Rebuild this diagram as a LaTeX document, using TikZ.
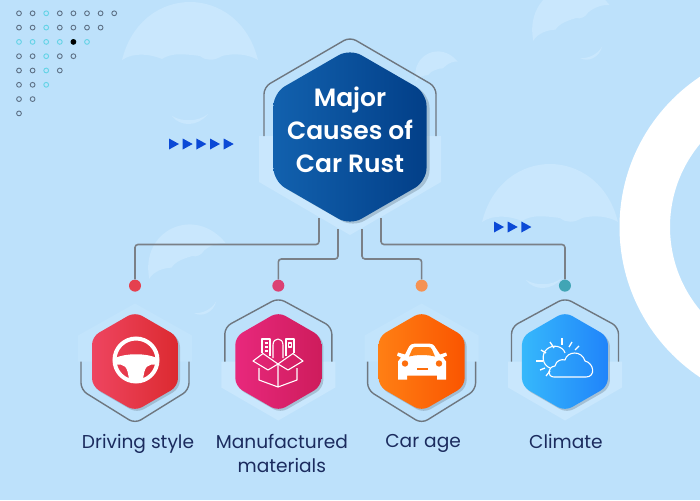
\documentclass[tikz,border=0pt]{standalone}
\usepackage{fontspec}
\setmainfont{Poppins}
\newfontfamily\headfont{Poppins SemiBold}
\usepackage{tikz}
\usetikzlibrary{positioning,shapes.geometric}
\definecolor{skyback}{HTML}{BDE1FB}
\definecolor{skypale}{HTML}{C9E7FD}
\definecolor{rimgray}{HTML}{6E7780}
\definecolor{linkgray}{HTML}{7A8087}
\definecolor{dotgray}{HTML}{5E7186}
\definecolor{dotcyan}{HTML}{63D3E6}
\definecolor{tipblue}{HTML}{0B49D6}
\definecolor{inkblue}{HTML}{1B2B5E}
\definecolor{HubL}{HTML}{1261AE}
\definecolor{HubR}{HTML}{023F88}
\definecolor{RedL}{HTML}{EE4560}
\definecolor{RedR}{HTML}{DC2A30}
\definecolor{PinkL}{HTML}{E8287C}
\definecolor{PinkR}{HTML}{CE1C5C}
\definecolor{OrangeL}{HTML}{FF7F14}
\definecolor{OrangeR}{HTML}{FA5500}
\definecolor{BlueL}{HTML}{36B8FB}
\definecolor{BlueR}{HTML}{2084FA}
\definecolor{JointRed}{HTML}{E5404F}
\definecolor{JointPink}{HTML}{DB4173}
\definecolor{JointOrange}{HTML}{F59253}
\definecolor{JointTeal}{HTML}{41A5B5}
\tikzset{
  hubhex/.style={regular polygon, regular polygon sides=6, shape border rotate=30, minimum size=176.7pt, inner sep=0pt, outer sep=0pt, rounded corners=13pt,
    preaction={fill=black!35!skyback, fill opacity=.45, transform canvas={xshift=3pt,yshift=-2pt}}},
  smallhex/.style={regular polygon, regular polygon sides=6, shape border rotate=30, minimum size=99.3pt, inner sep=0pt, outer sep=0pt, rounded corners=8pt,
    preaction={fill=black!35!skyback, fill opacity=.45, transform canvas={xshift=2pt,yshift=-2pt}}},
  rim/.style={draw=rimgray, line width=1.4pt, rounded corners=7pt},
  link/.style={draw=linkgray, line width=1.6pt, rounded corners=3pt},
  joint/.style={circle, minimum size=12pt, inner sep=0pt},
  caption/.style={text=inkblue, align=center, font=\fontsize{18.6}{23.5}\selectfont},
  gridring/.style={draw=dotgray, line width=.9pt, circle, minimum size=4.8pt, inner sep=0pt},
  tip/.style={fill=tipblue},
  iconfill/.style={fill=white},
  iconline/.style={draw=white, line width=1.1pt, line join=round},
  skycloud/.pic={
    \fill[skypale] (-68,-2) .. controls (-58,-42) and (-28,-60) .. (0,-60) .. controls (28,-60) and (58,-42) .. (68,-2)
      .. controls (58,-8) and (44,-9) .. (32,-6) .. controls (24,-1) and (16,-1) .. (10,-6) .. controls (-12,-9) and (-20,-8) .. (-28,-3)
      .. controls (-40,-8) and (-56,-10) .. (-68,-2) -- cycle;
  },
  skysmile/.pic={
    \fill[skypale] (-18,-2) .. controls (-8,4) and (8,4) .. (18,-4) .. controls (8,9) and (-10,9) .. (-18,-2) -- cycle;
  }
}
\newcommand{\lowerrim}[1]{\draw[rim] ([shift={(-54,0)}]#1) -- ++(0,28.5) -- ++(54,33.5) -- ++(54,-33.5) -- ++(0,-28.5);}
\newcommand{\upperrim}[1]{\draw[rim] ([shift={(-53.5,0)}]#1) -- ++(0,-34.5) -- ++(53.5,-29) -- ++(53.5,29) -- ++(0,34.5);}
\newcommand{\lowerpale}[1]{\fill[skypale] ([shift={(-57,0)}]#1) -- ++(0,26) -- ++(57,33) -- ++(57,-33) -- ++(0,-26) -- cycle;}
\newcommand{\upperpale}[1]{\fill[skypale!45!skyback] ([shift={(-57,0)}]#1) -- ++(0,-26) -- ++(57,-32) -- ++(57,32) -- ++(0,26) -- cycle;}

\begin{document}
\begin{tikzpicture}[x=1pt, y=-1pt, node distance=57.3pt]
  \useasboundingbox (0,0) rectangle (700,500);
  \fill[skyback] (0,0) rectangle (700,500);

  % backdrop
  \fill[white, even odd rule] (800,227) circle (180.5) (800,227) circle (130);
  \pic at (190,62) {skycloud};
  \pic at (550,224) {skycloud};
  \pic[scale=.62, rotate=25] at (572,24) {skycloud};
  \pic[scale=.34, rotate=25] at (437,72) {skycloud};
  \pic[scale=.62, rotate=25] at (188,262) {skycloud};
  \pic at (190,118) {skysmile};
  \pic at (544,282) {skysmile};
  \pic[scale=.7, rotate=25] at (592,54) {skysmile};
  \pic[scale=.7, rotate=25] at (206,309) {skysmile};

  % dot grid, one row shorter each time
  \foreach \row in {0,...,7}{
    \pgfmathtruncatemacro{\last}{7-\row}
    \foreach \col in {0,...,\last}{
      \pgfmathsetmacro{\gx}{19+13.6*\col}
      \pgfmathsetmacro{\gy}{13.3+14.3*\row}
      \ifnum\col=2
        \node[gridring, draw=dotcyan] (grid\row\col) at (\gx,\gy) {};
      \else\ifnum\row=2
        \node[gridring, draw=dotcyan] (grid\row\col) at (\gx,\gy) {};
      \else
        \node[gridring] (grid\row\col) at (\gx,\gy) {};
      \fi\fi
    }
  }
  \node[gridring, draw=black, fill=black] (gridmark) at (73.4,41.9) {};

  % small arrow tips
  \foreach \tx in {169,182.7,196.4,210,223.7}
    \fill[tip] (\tx,138.5) -- ++(10,5.5) -- ++(-10,5.5) -- cycle;
  \foreach \tx in {494,507.7,521.4}
    \fill[tip] (\tx,221.5) -- ++(10,5.5) -- ++(-10,5.5) -- cycle;

  \coordinate (hubc) at (350,137);
  \coordinate (redc) at (135,361.5);
  \coordinate (pinkc) at (278.3,361.5);
  \coordinate (orangec) at (421.6,361.5);
  \coordinate (bluec) at (565,361.5);

  \fill[skypale] (259,136) -- (259,182) -- (350,235) -- (441,182) -- (441,136) -- cycle;
  \upperpale{redc}
  \lowerpale{pinkc}
  \upperpale{orangec}
  \lowerpale{bluec}

  % hexagons
  \node[hubhex, left color=HubL, right color=HubR] (hub) at (hubc) {};
  \node[smallhex, left color=RedL, right color=RedR] (redhex) at (redc) {};
  \node[smallhex, left color=PinkL, right color=PinkR, right=of redhex] (pinkhex) {};
  \node[smallhex, left color=OrangeL, right color=OrangeR, right=of pinkhex] (orangehex) {};
  \node[smallhex, left color=BlueL, right color=BlueR, right=of orangehex] (bluehex) {};

  \draw[rim] (264,136) -- (264,87) -- (350,37) -- (436,87) -- (436,136);
  \lowerrim{redc}
  \upperrim{pinkc}
  \lowerrim{orangec}
  \upperrim{bluec}

  \node[text=white, align=center, font=\headfont\fontsize{25}{32.7}\selectfont] (hubtext) at (350,130) {Major\\Causes of\\Car Rust};

  % connectors
  \node[joint, fill=JointRed, above=20pt of redhex] (jointred) {};
  \node[joint, fill=JointPink, above=20pt of pinkhex] (jointpink) {};
  \node[joint, fill=JointOrange, above=20pt of orangehex] (jointorange) {};
  \node[joint, fill=JointTeal, above=20pt of bluehex] (jointteal) {};
  \coordinate (startred) at (319,218);
  \coordinate (startpink) at (338,229);
  \coordinate (startorange) at (362,229);
  \coordinate (startteal) at (381,218);
  \draw[link] (startred) -- ++(0,26.5) -| (jointred);
  \draw[link] (startpink) -- ++(0,30) -| (jointpink);
  \draw[link] (startorange) -- ++(0,30) -| (jointorange);
  \draw[link] (startteal) -- ++(0,26.5) -| (jointteal);

  % captions
  \node[caption, below=20pt of redhex, xshift=3pt] (capred) {Driving style};
  \node[caption, below=20pt of pinkhex, xshift=3.5pt] (cappink) {Manufactured\\materials};
  \node[caption, below=20pt of orangehex, xshift=1.5pt] (caporange) {Car age};
  \node[caption, below=20pt of bluehex, xshift=1pt] (capblue) {Climate};

  % steering wheel
  \begin{scope}[shift={(136,360)}]
    \draw[draw=white, line width=4pt] (0,0) circle (21.5);
    \fill[iconfill] (-21,-2) .. controls (-10,-7) and (10,-7) .. (21,-2) -- (21,5) .. controls (12,3) and (8,6) .. (7,21)
      -- (-7,21) .. controls (-8,6) and (-12,3) .. (-21,5) -- cycle;
  \end{scope}

  % box
  \begin{scope}[shift={(278,360)}]
    \draw[iconline] (-19,8) -- (-19,20) -- (0,27) -- (19,20) -- (19,8) (0,4) -- (0,27);
    \draw[iconline] (-25,1) -- (-15,-6.5) -- (0,4) -- (-10,10) -- cycle;
    \draw[iconline] (25,1) -- (15,-6.5) -- (0,4) -- (10,10) -- cycle;
    \draw[iconline] (-16,-7) -- (-16,-21) -- (-8,-21) -- (-8,-4);
    \draw[iconline] (-13.5,-17) -- (-10.5,-17) (-13.5,-13) -- (-10.5,-13) (-13.5,-9) -- (-10.5,-9);
    \draw[iconline] (-5,-2) -- (-5,-15) .. controls (-5,-23) and (5,-23) .. (5,-15) -- (5,-2);
    \draw[iconline] (8,-4) -- (8,-21) -- (16,-21) -- (16,-7);
    \draw[iconline] (10.5,-17) rectangle (13.5,-13);
  \end{scope}

  % car
  \begin{scope}[shift={(422,361.5)}]
    \fill[iconfill] (-17,-7) -- (-14,-13) .. controls (-12,-17) and (-10,-18) .. (-7,-18) -- (7,-18) .. controls (10,-18) and (12,-17) .. (14,-13)
      -- (18,-7) -- (24,-9) -- (25,-6) -- (21,-4) -- (24,0) -- (24,18) -- (15,18) -- (15,14) -- (-15,14) -- (-15,18) -- (-24,18) -- (-24,0)
      -- (-21,-4) -- (-25,-6) -- (-24,-9) -- cycle;
    \fill[OrangeL] (-13,-5) -- (-10,-12) .. controls (-9,-14) and (-8,-14.5) .. (-6,-14.5) -- (6,-14.5) .. controls (8,-14.5) and (9,-14) .. (10,-12) -- (13,-5) .. controls (5,-7) and (-5,-7) .. (-13,-5) -- cycle;
    \fill[OrangeR!40!OrangeL] (-17,2) circle (3.2) (17,2) circle (3.2);
    \fill[OrangeR!40!OrangeL] (-5.5,6) rectangle (5.5,8.5);
  \end{scope}

  % sun behind a cloud
  \begin{scope}[shift={(565,360)}]
    \draw[iconline] (0,-7) .. controls (-2,-14) and (-12,-16) .. (-18,-11) .. controls (-24,-6) and (-23,5) .. (-15,8);
    \foreach \rx/\ry/\sx/\sy in {-3/-15/-3/-22, -11/-12/-15/-18, -19/-7/-24/-10, -22/1/-29/1, -20/8/-25/10, -15/11/-19/16, 4/-13/7/-18, 10/-10/14/-14}
      \draw[iconline, line width=1.3pt] (\rx,\ry) -- (\sx,\sy);
    \draw[iconline] (-11,17) .. controls (-18,17) and (-18,7) .. (-10,6) .. controls (-9,0) and (-3,-1) .. (0,0)
      .. controls (2,-9) and (17,-10) .. (20,1) .. controls (29,3) and (31,17) .. (21,17) -- cycle;
  \end{scope}
\end{tikzpicture}
\end{document}
